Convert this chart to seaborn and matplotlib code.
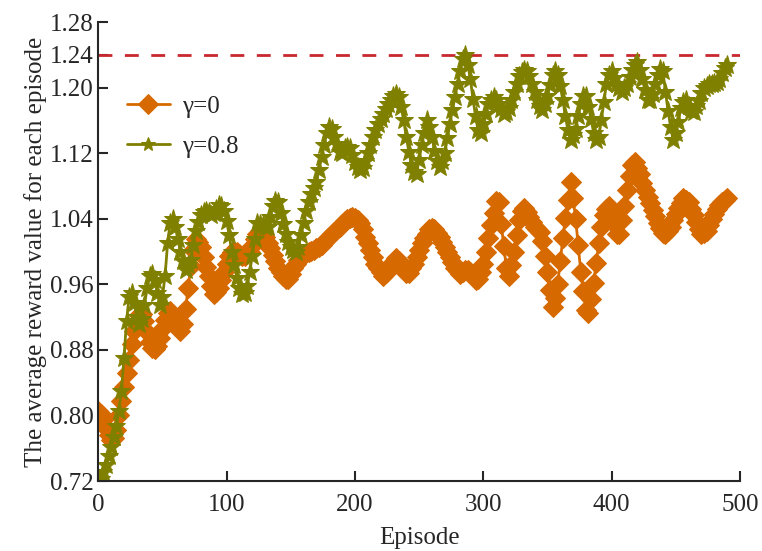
import numpy as np
import pandas as pd
import matplotlib
matplotlib.use('Agg')
import matplotlib.pyplot as plt
import seaborn as sns

# average reward per episode, every 2 episodes (0..490)
reward_g0 = [
    0.805, 0.802, 0.795, 0.785, 0.776, 0.770, 0.772, 0.782, 0.800, 0.818,
    0.835, 0.852, 0.868, 0.887, 0.903, 0.915, 0.922, 0.924, 0.915, 0.902,
    0.890, 0.882, 0.881, 0.885, 0.895, 0.905, 0.916, 0.925, 0.927, 0.923,
    0.918, 0.910, 0.903, 0.912, 0.930, 0.955, 0.982, 1.002, 1.015, 1.012,
    1.005, 0.993, 0.981, 0.970, 0.958, 0.948, 0.951, 0.955, 0.965, 0.975,
    0.985, 0.994, 0.999, 1.000, 1.000, 0.997, 0.994, 0.994, 0.997, 1.000,
    1.007, 1.015, 1.021, 1.025, 1.022, 1.018, 1.011, 1.004, 0.996, 0.988,
    0.980, 0.975, 0.970, 0.967, 0.967, 0.973, 0.980, 0.985, 0.990, 0.995,
    0.997, 0.998, 1.000, 1.001, 1.002, 1.004, 1.005, 1.008, 1.012, 1.015,
    1.018, 1.021, 1.024, 1.027, 1.030, 1.034, 1.037, 1.040, 1.041, 1.042,
    1.041, 1.038, 1.035, 1.027, 1.018, 1.010, 1.002, 0.993, 0.985, 0.980,
    0.975, 0.970, 0.974, 0.978, 0.982, 0.987, 0.992, 0.989, 0.985, 0.980,
    0.974, 0.974, 0.980, 0.985, 0.993, 1.002, 1.010, 1.016, 1.022, 1.028,
    1.029, 1.028, 1.023, 1.018, 1.012, 1.006, 1.000, 0.993, 0.987, 0.980,
    0.976, 0.973, 0.975, 0.978, 0.977, 0.975, 0.970, 0.965, 0.966, 0.975,
    0.985, 1.000, 1.017, 1.032, 1.047, 1.062, 1.060, 1.033, 1.007, 0.980,
    0.970, 0.984, 1.000, 1.020, 1.038, 1.050, 1.053, 1.048, 1.042, 1.036,
    1.030, 1.027, 1.024, 1.013, 0.995, 0.975, 0.953, 0.932, 0.943, 0.960,
    0.988, 1.016, 1.041, 1.063, 1.085, 1.065, 1.040, 1.008, 0.975, 0.952,
    0.929, 0.925, 0.942, 0.962, 0.986, 1.010, 1.030, 1.045, 1.052, 1.056,
    1.046, 1.034, 1.021, 1.022, 1.038, 1.055, 1.075, 1.092, 1.105, 1.109,
    1.102, 1.094, 1.084, 1.075, 1.067, 1.059, 1.051, 1.043, 1.035, 1.029,
    1.023, 1.021, 1.025, 1.030, 1.038, 1.046, 1.053, 1.059, 1.065, 1.063,
    1.060, 1.052, 1.044, 1.036, 1.028, 1.022, 1.023, 1.025, 1.032, 1.040,
    1.046, 1.052, 1.057, 1.060, 1.063, 1.065,
]
reward_g08 = [
    0.718, 0.722, 0.731, 0.740, 0.750, 0.762, 0.774, 0.787, 0.805, 0.830,
    0.870, 0.915, 0.945, 0.950, 0.937, 0.920, 0.912, 0.918, 0.935, 0.955,
    0.970, 0.973, 0.965, 0.950, 0.935, 0.945, 0.970, 1.010, 1.035, 1.040,
    1.030, 1.015, 1.000, 0.988, 0.978, 0.983, 0.990, 1.008, 1.025, 1.036,
    1.045, 1.048, 1.050, 1.048, 1.045, 1.047, 1.052, 1.057, 1.056, 1.049,
    1.037, 1.020, 1.000, 0.983, 0.968, 0.956, 0.948, 0.949, 0.958, 0.975,
    0.995, 1.015, 1.035, 1.034, 1.032, 1.030, 1.030, 1.042, 1.055, 1.062,
    1.060, 1.047, 1.034, 1.021, 1.012, 1.006, 1.002, 0.999, 1.005, 1.020,
    1.035, 1.050, 1.060, 1.070, 1.078, 1.085, 1.100, 1.115, 1.130, 1.145,
    1.152, 1.150, 1.140, 1.131, 1.122, 1.120, 1.126, 1.128, 1.126, 1.118,
    1.109, 1.103, 1.099, 1.102, 1.111, 1.120, 1.130, 1.140, 1.148, 1.155,
    1.162, 1.168, 1.174, 1.180, 1.185, 1.190, 1.192, 1.188, 1.176, 1.160,
    1.140, 1.122, 1.106, 1.097, 1.095, 1.112, 1.130, 1.145, 1.160, 1.152,
    1.140, 1.123, 1.110, 1.103, 1.110, 1.120, 1.138, 1.156, 1.173, 1.189,
    1.205, 1.220, 1.235, 1.240, 1.228, 1.210, 1.186, 1.165, 1.148, 1.145,
    1.155, 1.168, 1.180, 1.185, 1.188, 1.185, 1.180, 1.174, 1.168, 1.170,
    1.175, 1.185, 1.195, 1.205, 1.214, 1.219, 1.222, 1.220, 1.214, 1.205,
    1.195, 1.185, 1.178, 1.173, 1.180, 1.190, 1.203, 1.215, 1.220, 1.215,
    1.202, 1.185, 1.165, 1.148, 1.136, 1.142, 1.150, 1.165, 1.180, 1.190,
    1.190, 1.176, 1.162, 1.145, 1.136, 1.140, 1.160, 1.183, 1.205, 1.215,
    1.220, 1.212, 1.205, 1.199, 1.195, 1.199, 1.205, 1.213, 1.222, 1.228,
    1.231, 1.221, 1.210, 1.197, 1.185, 1.185, 1.192, 1.204, 1.215, 1.223,
    1.220, 1.195, 1.172, 1.152, 1.136, 1.145, 1.158, 1.175, 1.183, 1.185,
    1.178, 1.171, 1.170, 1.177, 1.184, 1.193, 1.199, 1.202, 1.204, 1.205,
    1.206, 1.207, 1.211, 1.218, 1.224, 1.228,
]
episodes = np.arange(0, 491, 2)
assert len(episodes) == len(reward_g0) == len(reward_g08)

target = 1.24
y_ticks = [0.72, 0.80, 0.88, 0.96, 1.04, 1.12, 1.20, 1.24, 1.28]
x_ticks = [0, 100, 200, 300, 400, 500]

df = pd.DataFrame({'episode': episodes, 'g0': reward_g0, 'g08': reward_g08})

sns.set_style('ticks')
plt.rcParams['font.family'] = ['Liberation Serif', 'DejaVu Serif']

fig, ax = plt.subplots(figsize=(7.62, 5.51), dpi=100)
fig.subplots_adjust(left=0.129, right=0.971, bottom=0.127, top=0.960)

ax.plot([0, 500], [target, target], color='#c8282e', lw=2, dashes=(5, 4.5), zorder=1)

orange = '#d66a00'
olive = '#808000'
sns.lineplot(data=df, x='episode', y='g0', ax=ax, color=orange, lw=2,
             marker='D', markersize=10, markeredgecolor=orange, label='γ=0')
sns.lineplot(data=df, x='episode', y='g08', ax=ax, color=olive, lw=2,
             marker='*', markersize=14, markeredgecolor=olive, label='γ=0.8')

ax.set_xlim(0, 500)
ax.set_ylim(0.72, 1.28)
ax.set_xticks(x_ticks)
ax.set_yticks(y_ticks)
ax.set_yticklabels(['%.2f' % t for t in y_ticks])
ax.tick_params(direction='in', length=7, width=1.5, labelsize=18)
ax.tick_params(axis='x', pad=9)
for s in ['left', 'bottom']:
    ax.spines[s].set_linewidth(1.5)
sns.despine(ax=ax)

ax.set_xlabel('Episode', fontsize=18, labelpad=8)
ax.set_ylabel('The average reward value for each episode', fontsize=18, labelpad=2)

leg = ax.legend(loc='upper left', bbox_to_anchor=(0.01, 0.89), frameon=False,
                fontsize=18, handlelength=1.7, handletextpad=0.5, labelspacing=0.7)
for h in leg.get_lines():
    h.set_markersize(10)

plt.savefig('out.png', dpi=100)
